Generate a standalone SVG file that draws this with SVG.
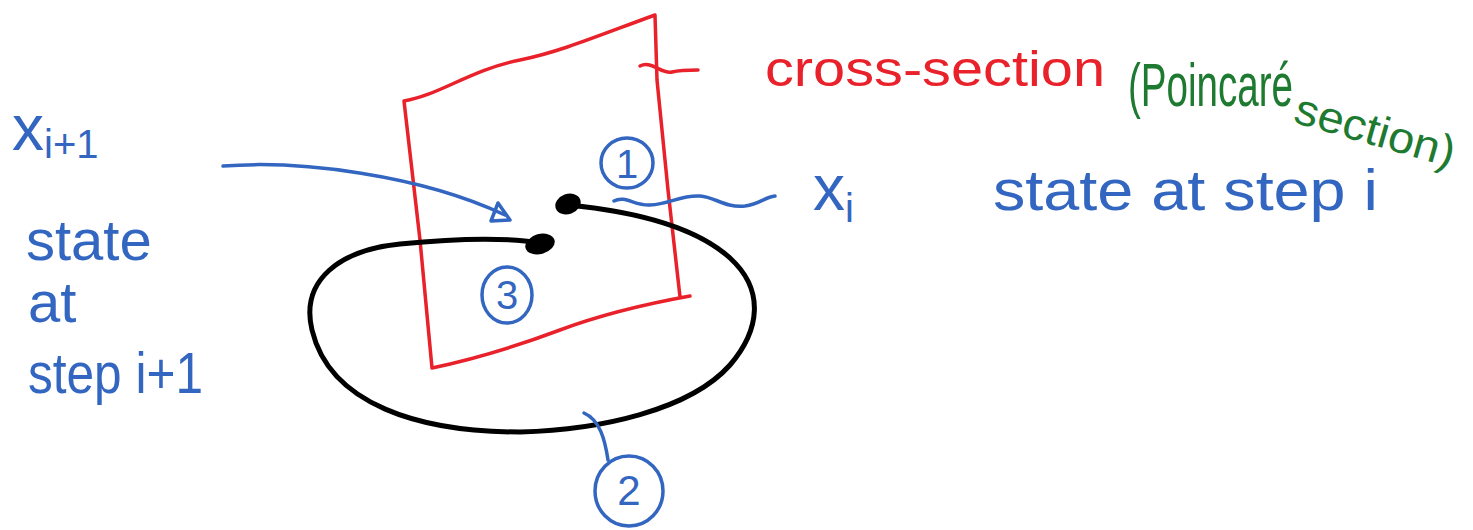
<svg xmlns="http://www.w3.org/2000/svg" width="1473" height="530" viewBox="0 0 1473 530">
<style>
.red{fill:none;stroke:#e8212a;stroke-width:3.5;stroke-linecap:round;stroke-linejoin:round}
.blk{fill:none;stroke:#000;stroke-width:5;stroke-linecap:round}
.blu{fill:none;stroke:#3366c0;stroke-width:3.5;stroke-linecap:round;stroke-linejoin:round}
.bt{fill:#3366c0;font-family:"Liberation Sans","DejaVu Sans",sans-serif}
.rt{fill:#e8212a;font-family:"Liberation Sans","DejaVu Sans",sans-serif}
.gt{fill:#1e7a30;font-family:"Liberation Sans","DejaVu Sans",sans-serif}
</style>
<rect width="1473" height="530" fill="#fff"/>
<g id="plane">
<path class="red" d="M404,101 C440,95 470,70 520,60 C560,52 600,35 655,15 L657,80 L668,190 L680,297 M404,101 L420,240 L432,368 C470,360 520,345 560,330 C600,315 640,305 690,296"/>
<path class="red" d="M640,66 C652,60 662,75 672,72 C680,70 688,70 698,70"/>
</g>
<g id="orbit">
<path class="blk" d="M568,205 C620,210 690,222 730,258 C765,290 760,330 730,365 C690,410 600,430 520,432 C420,432 330,405 312,330 C300,280 340,250 400,244 C460,238 510,238 540,243"/>
<ellipse cx="568" cy="204" rx="13" ry="10" transform="rotate(-20 568 204)" fill="#000"/>
<ellipse cx="540" cy="244" rx="15" ry="10" transform="rotate(-15 540 244)" fill="#000"/>
</g>
<g id="connectors">
<path class="blu" d="M223,166 C300,160 420,175 505,215"/>
<path class="blu" d="M498,203 L510,220 L491,221 Z"/>
<path class="blu" d="M614,201 C625,195 635,206 650,205 C670,204 680,195 700,196 C715,197 725,208 745,206 C760,204 765,197 775,196"/>
<path class="blu" d="M584,413 C600,420 605,440 608,460"/>
</g>
<g id="n1"><ellipse class="blu" cx="627" cy="163" rx="26" ry="25"/><text class="bt" x="627" y="178" font-size="40" text-anchor="middle">1</text></g>
<g id="n3"><ellipse class="blu" cx="507" cy="295" rx="25" ry="28"/><text class="bt" x="507" y="309" font-size="40" text-anchor="middle">3</text></g>
<g id="n2"><ellipse class="blu" cx="629" cy="491" rx="34" ry="35"/><text class="bt" x="629" y="505" font-size="42" text-anchor="middle">2</text></g>
<g id="labels">
<text class="bt" x="12" y="150" font-size="64">x<tspan font-size="40" dy="8">i+1</tspan></text>
<text class="bt" x="26" y="260" font-size="58">state</text>
<text class="bt" x="28" y="322" font-size="58">at</text>
<text class="bt" x="28" y="393" font-size="58" textLength="175" lengthAdjust="spacingAndGlyphs">step i+1</text>
<text class="rt" x="765" y="86" font-size="50" textLength="340" lengthAdjust="spacingAndGlyphs">cross-section</text>
<text class="gt" x="1128" y="106" font-size="62" textLength="165" lengthAdjust="spacingAndGlyphs">(Poincaré</text>
<text class="gt" x="1292" y="122" font-size="44" textLength="165" lengthAdjust="spacingAndGlyphs" transform="rotate(16 1292 122)">section)</text>
<text class="bt" x="813" y="210" font-size="64">x<tspan font-size="40" dy="12">i</tspan></text>
<text class="bt" x="993" y="210" font-size="58" textLength="385" lengthAdjust="spacingAndGlyphs">state at step i</text>
</g>
</svg>
